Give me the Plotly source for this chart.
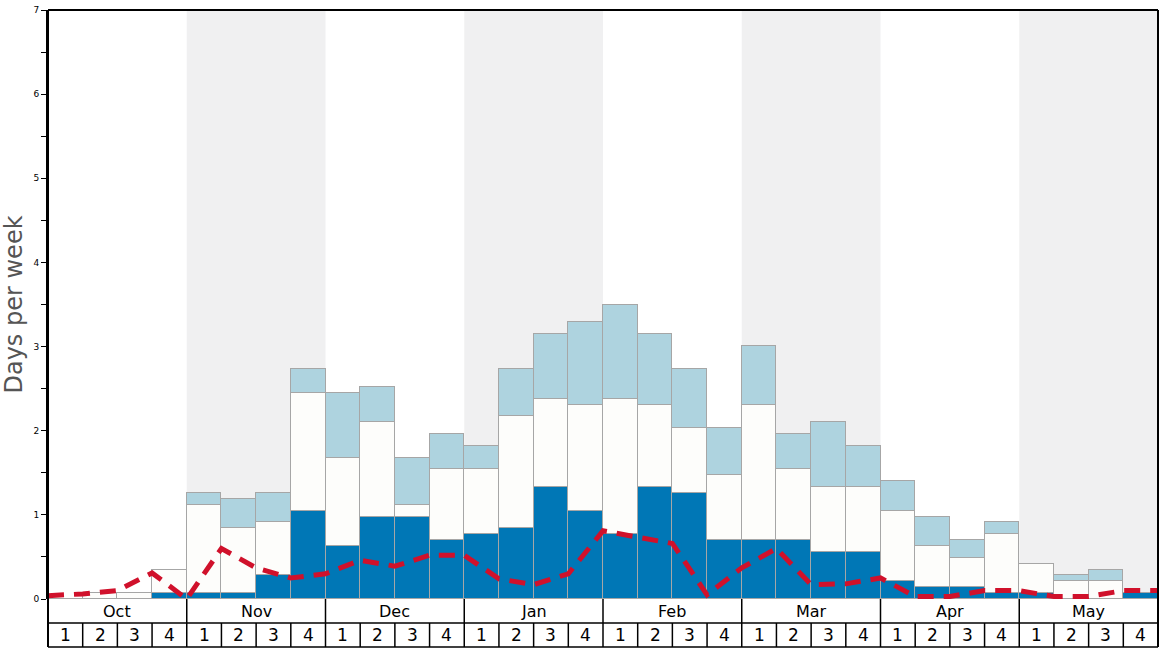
import plotly.graph_objects as go

# ---- data ----
months = ["Oct", "Nov", "Dec", "Jan", "Feb", "Mar", "Apr", "May"]
weeks = ["1", "2", "3", "4"]

deep_days = [0, 0, 0, 0.07, 0.07, 0.07, 0.28, 1.05,
             0.63, 0.98, 0.98, 0.70, 0.77, 0.84, 1.33, 1.05,
             0.77, 1.33, 1.26, 0.70, 0.70, 0.70, 0.56, 0.56,
             0.21, 0.14, 0.14, 0.07, 0.07, 0, 0, 0.07]
mid_days = [0, 0.07, 0.07, 0.28, 1.05, 0.77, 0.63, 1.40,
            1.05, 1.12, 0.14, 0.84, 0.77, 1.33, 1.05, 1.26,
            1.61, 0.98, 0.77, 0.77, 1.61, 0.84, 0.77, 0.77,
            0.84, 0.49, 0.35, 0.70, 0.35, 0.21, 0.21, 0]
light_days = [0, 0, 0, 0, 0.14, 0.35, 0.35, 0.28,
              0.77, 0.42, 0.56, 0.42, 0.28, 0.56, 0.77, 0.98,
              1.12, 0.84, 0.70, 0.56, 0.70, 0.42, 0.77, 0.49,
              0.35, 0.35, 0.21, 0.14, 0, 0.07, 0.14, 0]
# trend line, sampled at week boundaries (33 points)
trend_days = [0.04, 0.06, 0.10, 0.31, 0.0, 0.60, 0.37, 0.25, 0.30,
              0.46, 0.39, 0.52, 0.52, 0.24, 0.17, 0.30, 0.81,
              0.74, 0.66, 0.05, 0.37, 0.60, 0.17, 0.18, 0.25,
              0.03, 0.03, 0.10, 0.10, 0.03, 0.03, 0.10, 0.10]

n = len(months) * len(weeks)
centers = [i + 0.5 for i in range(n)]
edges = list(range(n + 1))

DARK = "#0077b6"
WHITE = "#fdfdfb"
LIGHT = "#aed3df"
OUTLINE = "#a6a6a6"
RED = "#d0112b"
FONT = "DejaVu Sans"

fig = go.Figure()
for vals, col in [(deep_days, DARK), (mid_days, WHITE), (light_days, LIGHT)]:
    fig.add_trace(go.Bar(x=centers, y=vals, width=1, marker=dict(color=col, line=dict(color=OUTLINE, width=1.2)),
                         hoverinfo="y", showlegend=False))

fig.add_trace(go.Scatter(x=edges, y=trend_days, mode="lines",
                         line=dict(color=RED, width=5, dash="16px,10px"),
                         showlegend=False, hoverinfo="y"))

shapes = []
nw = len(weeks)
# alternating month shading
for m in range(len(months)):
    if m % 2 == 1:
        shapes.append(dict(type="rect", xref="x", yref="y", x0=m * nw, x1=(m + 1) * nw, y0=0, y1=7,
                           fillcolor="#f0f0f1", line=dict(width=0), layer="below"))

# label boxes below the plot (paper coords)
ph = 648 - 10 - 49
row1 = -24 / ph
row2 = -48 / ph
blk = dict(color="black", width=1.5)
shapes.append(dict(type="line", xref="paper", yref="paper", x0=0, x1=1, y0=row1, y1=row1, line=blk))
shapes.append(dict(type="line", xref="paper", yref="paper", x0=0, x1=1, y0=row2, y1=row2, line=blk))
shapes.append(dict(type="line", xref="paper", yref="paper", x0=0, x1=0, y0=row2, y1=1, line=dict(color="black", width=2)))
shapes.append(dict(type="line", xref="paper", yref="paper", x0=1, x1=1, y0=row2, y1=1, line=dict(color="black", width=2)))
shapes.append(dict(type="line", xref="paper", yref="paper", x0=0, x1=1, y0=1, y1=1, line=dict(color="black", width=2)))
for m in range(1, len(months)):
    xp = m * nw / n
    shapes.append(dict(type="line", xref="paper", yref="paper", x0=xp, x1=xp, y0=row1, y1=0, line=blk))
for i in range(1, n):
    xp = i / n
    shapes.append(dict(type="line", xref="paper", yref="paper", x0=xp, x1=xp, y0=row2, y1=row1, line=blk))

annotations = []
for m, name in enumerate(months):
    annotations.append(dict(text=name, xref="x", yref="paper", x=m * nw + nw / 2, y=row1 / 2,
                            showarrow=False, font=dict(family=FONT, size=16, color="black"),
                            xanchor="center", yanchor="middle"))
for m in range(len(months)):
    for w, wl in enumerate(weeks):
        annotations.append(dict(text=wl, xref="x", yref="paper", x=m * nw + w + 0.5, y=(row1 + row2) / 2,
                                showarrow=False, font=dict(family=FONT, size=17, color="black"),
                                xanchor="center", yanchor="middle"))

fig.update_layout(
    width=1168, height=648,
    margin=dict(l=48, r=10, t=10, b=49, autoexpand=False),
    paper_bgcolor="white", plot_bgcolor="white",
    barmode="stack", bargap=0,
    shapes=shapes, annotations=annotations,
    font=dict(family=FONT),
    xaxis=dict(range=[0, n], showticklabels=False, showgrid=False, zeroline=False, ticks="", automargin=False),
    yaxis=dict(range=[0, 7], tickvals=list(range(8)), ticks="outside", ticklen=5, tickcolor="black",
               tickfont=dict(family=FONT, size=9, color="black"), showgrid=False, zeroline=False,
               showline=True, linecolor="black", linewidth=2, automargin=False,
               minor=dict(dtick=0.5, ticks="outside", ticklen=5, tickcolor="black"),
               title=dict(text="Days per week", font=dict(family=FONT, size=24, color="#555555"), standoff=12)),
)

fig.write_html("out.html", config={"displayModeBar": False},
               post_script="document.body.style.margin='0';document.body.style.overflow='hidden';")
